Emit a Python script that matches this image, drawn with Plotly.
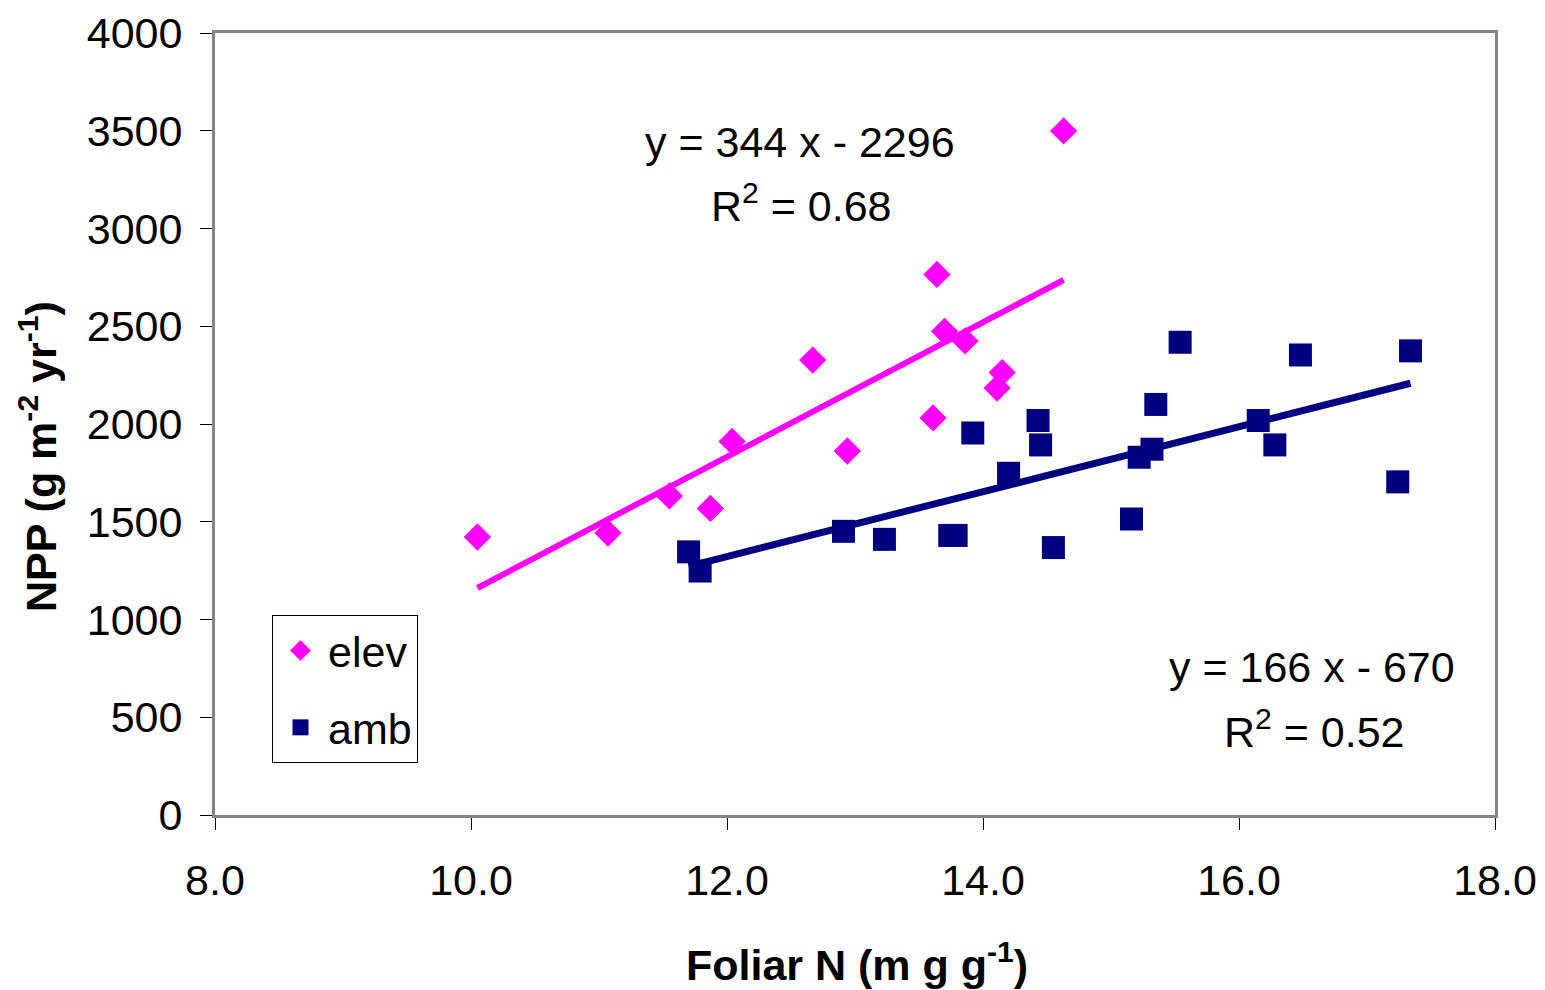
import plotly.graph_objects as go
import numpy as np

# elevated CO2
elev_x = [10.05, 11.07, 11.55, 11.87, 12.04, 12.67, 12.94, 13.61, 13.64, 13.70, 13.86, 14.11, 14.15, 14.63]
elev_y = [1422, 1442, 1632, 1568, 1911, 2327, 1862, 2031, 2765, 2474, 2425, 2184, 2263, 3499]
# ambient CO2
amb_x = [11.70, 11.79, 12.91, 13.23, 13.74, 13.79, 13.92, 14.20, 14.43, 14.45, 14.55, 15.16,
         15.22, 15.32, 15.35, 15.54, 16.15, 16.28, 16.48, 17.24, 17.34]
amb_y = [1346, 1248, 1451, 1410, 1430, 1430, 1954, 1748, 2018, 1893, 1368, 1514,
         1830, 1871, 2100, 2418, 2018, 1893, 2353, 1704, 2374]

# trendline coefficients as printed on the chart
elev_fit = (344, -2296, 0.68)
amb_fit = (166, -670, 0.52)

x_ticks = [8.0, 10.0, 12.0, 14.0, 16.0, 18.0]
y_ticks = [0, 500, 1000, 1500, 2000, 2500, 3000, 3500, 4000]

FONT = "Liberation Sans, Arial, sans-serif"
PINK = "#FF00FF"
NAVY = "#000080"

ex = np.sort(np.array(elev_x))
ax = np.sort(np.array(amb_x))

fig = go.Figure()
fig.add_trace(go.Scatter(x=ex, y=elev_fit[0] * ex + elev_fit[1], mode="lines",
                         line=dict(color=PINK, width=6), showlegend=False, hoverinfo="skip"))
fig.add_trace(go.Scatter(x=ax, y=amb_fit[0] * ax + amb_fit[1], mode="lines",
                         line=dict(color=NAVY, width=7), showlegend=False, hoverinfo="skip"))
fig.add_trace(go.Scatter(x=elev_x, y=elev_y, mode="markers", name="elev", legendgroup="a",
                         marker=dict(symbol="diamond", size=21, color=PINK)))
fig.add_trace(go.Scatter(x=amb_x, y=amb_y, mode="markers", name="amb", legendgroup="b",
                         marker=dict(symbol="square", size=23, color=NAVY)))

OFF = 8  # page body margin
W, H = 1545 - OFF, 990 - OFF
L, R, T, B = 215 - OFF, 50, 33 - OFF, 175
PW, PH = W - L - R, H - T - B


def px(xp):
    return (xp - OFF - L) / PW


def py(yp):
    return (H - B - (yp - OFF)) / PH


fig.update_layout(
    width=W, height=H,
    margin=dict(l=L, r=R, t=T, b=B, autoexpand=False),
    paper_bgcolor="white", plot_bgcolor="white",
    font=dict(family=FONT, size=43, color="black"),
    legend=dict(x=px(272), y=py(615), xanchor="left", yanchor="top",
                bordercolor="black", borderwidth=1, bgcolor="white",
                font=dict(size=43), tracegroupgap=18, traceorder="grouped",
                itemsizing="trace", itemwidth=45),
    xaxis=dict(range=[8, 18], tickvals=x_ticks, ticktext=[f"{v:.1f}" for v in x_ticks],
               showgrid=False, zeroline=False, showline=True, linecolor="#858585", linewidth=3,
               mirror=True, ticks="outside", ticklen=12, tickwidth=1, tickcolor="black",
               ticklabelstandoff=13, automargin=False),
    yaxis=dict(range=[0, 4000], tickvals=y_ticks, showgrid=False, zeroline=False,
               showline=True, linecolor="#858585", linewidth=3, mirror=True,
               ticks="outside", ticklen=12, tickwidth=1, tickcolor="black",
               ticklabelstandoff=9, automargin=False),
    annotations=[
        dict(text="<b>Foliar N (m g g<sup>-1</sup>)</b>", xref="paper", yref="paper",
             x=px(857), y=py(962), xanchor="center", yanchor="middle", showarrow=False,
             font=dict(size=43)),
        dict(text="<b>NPP (g m<sup>-2</sup> yr<sup>-1</sup>)</b>", xref="paper", yref="paper",
             x=px(38), y=py(457), xanchor="center", yanchor="middle", showarrow=False,
             textangle=-90, font=dict(size=43)),
        dict(text=f"y = {elev_fit[0]} x - {abs(elev_fit[1])}", xref="paper", yref="paper",
             x=px(800), y=py(142), xanchor="center", yanchor="middle", showarrow=False),
        dict(text=f"R<sup>2</sup> = {elev_fit[2]:.2f}", xref="paper", yref="paper",
             x=px(801), y=py(203), xanchor="center", yanchor="middle", showarrow=False),
        dict(text=f"y = {amb_fit[0]} x - {abs(amb_fit[1])}", xref="paper", yref="paper",
             x=px(1312), y=py(667), xanchor="center", yanchor="middle", showarrow=False),
        dict(text=f"R<sup>2</sup> = {amb_fit[2]:.2f}", xref="paper", yref="paper",
             x=px(1314), y=py(729), xanchor="center", yanchor="middle", showarrow=False),
    ],
)

fig.write_html("out.html")
